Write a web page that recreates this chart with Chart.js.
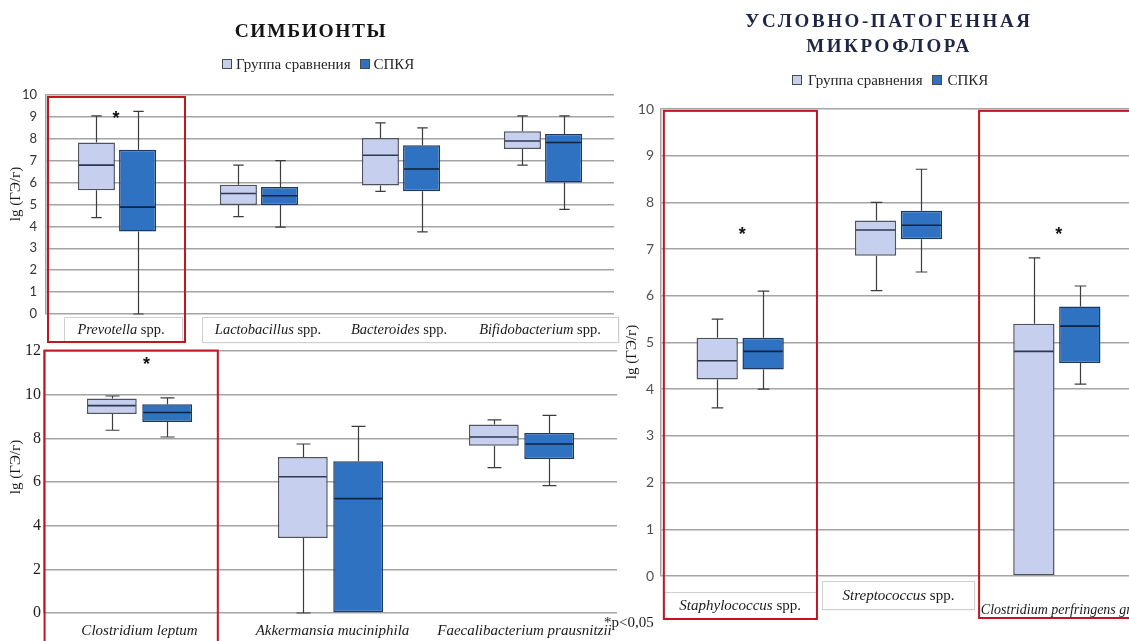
<!DOCTYPE html>
<html lang="ru">
<head>
<meta charset="utf-8">
<title>Микробиота кишечника</title>
<script src="https://cdn.jsdelivr.net/npm/chart.js@4.4.1/dist/chart.umd.min.js"></script>
<style>
  html, body { margin: 0; padding: 0; background: #fff; overflow: hidden; }
  #page { position: relative; width: 1129px; height: 641px; overflow: hidden; background: #fff; }
  #page canvas { position: absolute; }
  .ttl { position: absolute; font-family: "Liberation Serif", "Times New Roman", serif; font-weight: bold; text-align: center; white-space: nowrap; }
  .leg { position: absolute; height: 18px; display: flex; align-items: center; font-family: "Liberation Serif", serif; font-size: 15px; color: #262626; white-space: nowrap; }
  .sw { width: 8px; height: 8px; border: 1px solid #4a4a4a; display: inline-block; flex: none; }
  .note { position: absolute; font-family: "Liberation Serif", serif; font-size: 15px; color: #1a1a1a; white-space: nowrap; line-height: 18px; }
</style>
</head>
<body>
<div id="page">
  <canvas id="symb" width="622" height="345" style="left:0;top:0;width:622px;height:345px"></canvas>
  <canvas id="comm" width="622" height="311" style="left:0;top:330px;width:622px;height:311px"></canvas>
  <canvas id="opp" width="520" height="641" style="left:622px;top:0;width:520px;height:641px"></canvas>

  <div class="ttl" style="left:0;top:19px;width:622px;font-size:19.5px;line-height:24px;letter-spacing:1.6px;color:#141414">СИМБИОНТЫ</div>
  <div class="ttl" style="left:649px;top:8px;width:480px;font-size:19px;line-height:25px;letter-spacing:2.6px;color:#1d2645">УСЛОВНО-ПАТОГЕННАЯ<br>МИКРОФЛОРА</div>
  <div class="leg" id="legSymb" style="left:222px;top:55px"></div>
  <div class="leg" id="legOpp" style="left:792px;top:71px"></div>
  <div class="note" style="left:604px;top:613px">*p&lt;0,05</div>
</div>

<script>
// Series
const seriesNames = ['Группа сравнения', 'СПКЯ'];

// Symbionts (upper left). Each entry: [min, Q1, median, Q3, max], lg(GE/g)
const symbLabels = [['Prevotella', ' spp.'], ['Lactobacillus', ' spp.'], ['Bacteroides', ' spp.'], ['Bifidobacterium', ' spp.']];
const symbComparison = [[4.4, 5.65, 6.8, 7.83, 9.05], [4.45, 4.98, 5.5, 5.9, 6.8], [5.6, 5.87, 7.25, 8.04, 8.73], [6.8, 7.53, 7.9, 8.35, 9.05]];
const symbPcos = [[0, 3.77, 4.88, 7.5, 9.25], [3.97, 4.98, 5.4, 5.8, 7.0], [3.75, 5.6, 6.62, 7.7, 8.5], [4.78, 6.0, 7.83, 8.22, 9.05]];
const symbTicks = [0, 10, 1];          // min, max, step
const symbSignificant = [0];

// Symbionts (lower left)
const commLabels = [['Clostridium leptum', ''], ['Akkermansia muciniphila', ''], ['Faecalibacterium prausnitzii', '']];
const commComparison = [[8.37, 9.11, 9.5, 9.82, 9.94], [0, 3.43, 6.24, 7.15, 7.74], [6.66, 7.66, 8.06, 8.63, 8.85]];
const commPcos = [[8.06, 8.75, 9.18, 9.56, 9.85], [0, 0, 5.24, 6.95, 8.55], [5.83, 7.05, 7.74, 8.24, 9.05]];
const commTicks = [0, 12, 2];
const commSignificant = [0];

// Opportunistic flora (right)
const oppLabels = [['Staphylococcus', ' spp.'], ['Streptococcus', ' spp.'], ['Clostridium perfringens group', '']];
const oppComparison = [[3.6, 4.21, 4.61, 5.1, 5.5], [6.11, 6.86, 7.41, 7.61, 8.0], [0, 0, 4.81, 5.4, 6.81]];
const oppPcos = [[4.0, 4.42, 4.81, 5.1, 6.1], [6.51, 7.21, 7.51, 7.82, 8.71], [4.11, 4.56, 5.35, 5.77, 6.21]];
const oppTicks = [0, 10, 1];
const oppSignificant = [0, 2];

const yTitle = 'lg (ГЭ/г)';

// ---- styles ----
const LIGHT = { fill: '#c6d0ee', border: '#4f5360', median: '#2c3850' };
const DARK  = { fill: '#2e72c1', border: '#1b3a63', median: '#0d2442' };
const WHISKER = '#3c3c3c';
const GRID = '#a4a4a4';
const FRAME = '#c0161f';
const SERIF = '"Liberation Serif", "Times New Roman", serif';

function buildLegend(id, gap1, gap2) {
  const el = document.getElementById(id);
  [LIGHT, DARK].forEach((st, i) => {
    const sw = document.createElement('span');
    sw.className = 'sw';
    sw.style.background = st.fill;
    sw.style.marginRight = gap1 + 'px';
    if (i > 0) sw.style.marginLeft = gap2 + 'px';
    const tx = document.createElement('span');
    tx.textContent = seriesNames[i];
    el.appendChild(sw); el.appendChild(tx);
  });
}
buildLegend('legSymb', 4, 9);
buildLegend('legOpp', 6, 9);

function drawParts(ctx, parts, x, y, size, align) {
  const fonts = ['italic ' + size + 'px ' + SERIF, size + 'px ' + SERIF];
  let w = 0;
  parts.forEach((p, k) => { ctx.font = fonts[k]; w += ctx.measureText(p).width; });
  let cx = align === 'left' ? x : x - w / 2;
  ctx.textAlign = 'left';
  ctx.textBaseline = 'middle';
  ctx.fillStyle = '#1a1a1a';
  parts.forEach((p, k) => { ctx.font = fonts[k]; ctx.fillText(p, cx, y); cx += ctx.measureText(p).width; });
}

// Whiskers, medians and the annotations around each panel
function boxPlotPlugin(d) {
  return {
    id: 'boxDecor',
    beforeDatasetsDraw(chart) {
      const ys = chart.scales.y, ctx = chart.ctx;
      ctx.save();
      ctx.strokeStyle = WHISKER;
      ctx.lineWidth = 1.2;
      chart.data.datasets.forEach((ds, i) => {
        chart.getDatasetMeta(i).data.forEach((bar, j) => {
          const s = ds.stats[j];
          const p = bar.getProps(['x', 'width'], true);
          const x = Math.round(p.x) + 0.5;
          const cap = p.width * 0.28;
          ctx.beginPath();
          ctx.moveTo(x, ys.getPixelForValue(s[3]));
          ctx.lineTo(x, ys.getPixelForValue(s[4]));
          ctx.moveTo(x - cap / 2, ys.getPixelForValue(s[4]));
          ctx.lineTo(x + cap / 2, ys.getPixelForValue(s[4]));
          if (s[0] < s[1]) {
            ctx.moveTo(x, ys.getPixelForValue(s[1]));
            ctx.lineTo(x, ys.getPixelForValue(s[0]));
            ctx.moveTo(x - cap / 2, ys.getPixelForValue(s[0]));
            ctx.lineTo(x + cap / 2, ys.getPixelForValue(s[0]));
          }
          ctx.stroke();
        });
      });
      ctx.restore();
    },
    afterDatasetsDraw(chart) {
      const ys = chart.scales.y, ctx = chart.ctx;
      ctx.save();
      ctx.lineWidth = 1.6;
      chart.data.datasets.forEach((ds, i) => {
        ctx.strokeStyle = ds.medianColor;
        chart.getDatasetMeta(i).data.forEach((bar, j) => {
          const p = bar.getProps(['x', 'width'], true);
          const y = ys.getPixelForValue(ds.stats[j][2]);
          ctx.beginPath();
          ctx.moveTo(p.x - p.width / 2 + 1, y);
          ctx.lineTo(p.x + p.width / 2 - 1, y);
          ctx.stroke();
        });
      });
      ctx.restore();
    },
    afterDraw(chart) {
      const ctx = chart.ctx, xs = chart.scales.x, ys = chart.scales.y, area = chart.chartArea;
      const x0 = xs.getPixelForValue(0);
      const step = xs.getPixelForValue(1) - x0;
      const catX = u => x0 + u * step;
      ctx.save();
      // label plates
      (d.plates || []).forEach(b => {
        const l = catX(b.from), r = catX(b.to), t = area.bottom + b.below;
        ctx.fillStyle = 'rgba(0,0,0,0.07)';
        ctx.fillRect(l + 1.5, t + 1.5, r - l, b.h);
        ctx.fillStyle = '#fff';
        ctx.fillRect(l, t, r - l, b.h);
        ctx.strokeStyle = '#cfcfcf';
        ctx.lineWidth = 1;
        ctx.strokeRect(Math.round(l) + 0.5, Math.round(t) + 0.5, Math.round(r - l), b.h);
      });
      // category labels
      d.labels.forEach((parts, i) => {
        const pos = d.labelPos[i];
        drawParts(ctx, parts, xs.getPixelForValue(i) + pos.dx, area.bottom + pos.dy, pos.size || d.labelSize, pos.align);
      });
      // significance marks
      d.significant.forEach(i => {
        ctx.font = 'bold 18px "Liberation Sans", sans-serif';
        ctx.fillStyle = '#111';
        ctx.textAlign = 'center';
        ctx.textBaseline = 'alphabetic';
        ctx.fillText('*', xs.getPixelForValue(i) + d.star.dx, ys.getPixelForValue(d.star.level) + 10.5);
      });
      // y axis title
      ctx.save();
      ctx.translate(d.yTitle.x, d.yTitle.y);
      ctx.rotate(-Math.PI / 2);
      ctx.font = '15px ' + SERIF;
      ctx.fillStyle = '#1a1a1a';
      ctx.textAlign = 'center';
      ctx.textBaseline = 'middle';
      ctx.fillText(yTitle, 0, 0);
      ctx.restore();
      // highlight frames
      ctx.strokeStyle = FRAME;
      ctx.lineWidth = 2;
      d.frames.forEach(f => {
        const l = catX(f.from), r = catX(f.to);
        const t = ys.getPixelForValue(f.top), b = area.bottom + f.below;
        ctx.strokeRect(l, t, r - l, b - t);
      });
      ctx.restore();
    }
  };
}

function boxChart(id, p) {
  const labels = p.labels.map(parts => parts.join(''));
  const mk = (name, stats, st) => ({
    label: name,
    data: stats.map(s => [s[1], s[3]]),
    stats: stats,
    medianColor: st.median,
    backgroundColor: st.fill,
    borderColor: st.border,
    borderWidth: 1.5,
    borderSkipped: false,
    categoryPercentage: 0.58,
    barPercentage: 0.9
  });
  return new Chart(document.getElementById(id), {
    type: 'bar',
    data: {
      labels: labels,
      datasets: [mk(seriesNames[0], p.comp, LIGHT), mk(seriesNames[1], p.pcos, DARK)]
    },
    options: {
      responsive: false,
      devicePixelRatio: 1,
      animation: false,
      events: [],
      layout: { padding: p.padding },
      plugins: { legend: { display: false }, title: { display: false }, tooltip: { enabled: false } },
      scales: {
        x: { display: false },
        y: {
          min: p.ticks[0], max: p.ticks[1],
          afterFit: s => { s.width = p.axisWidth; },
          grid: { color: GRID, lineWidth: 1.5, drawTicks: false },
          border: { display: true, color: GRID, width: 1.5 },
          ticks: { stepSize: p.ticks[2], padding: p.tickPad, color: p.tickColor, font: p.tickFont }
        }
      }
    },
    plugins: [boxPlotPlugin(p.decor)]
  });
}

boxChart('symb', {
  labels: symbLabels, comp: symbComparison, pcos: symbPcos, ticks: symbTicks,
  padding: { top: 95, bottom: 31, left: 0, right: 8 }, axisWidth: 46, tickPad: 9,
  tickColor: '#333', tickFont: { family: 'Lato, "Open Sans", sans-serif', size: 13 },
  decor: {
    labels: symbLabels, labelSize: 14.5,
    labelPos: [{ dx: 4, dy: 16 }, { dx: 9, dy: 16 }, { dx: -2, dy: 16 }, { dx: -3, dy: 16 }],
    plates: [{ from: -0.373, to: 0.458, below: 3, h: 25 }, { from: 0.599, to: 3.53, below: 3, h: 25 }],
    significant: symbSignificant, star: { dx: -1, level: 9.16 },
    yTitle: { x: 16, y: 194 },
    frames: [{ from: -0.486, to: 0.479, top: 9.91, below: 28 }]
  }
});

boxChart('comm', {
  labels: commLabels, comp: commComparison, pcos: commPcos, ticks: commTicks,
  padding: { top: 21, bottom: 28, left: 0, right: 5 }, axisWidth: 44, tickPad: 3,
  tickColor: '#222', tickFont: { family: SERIF, size: 16 },
  decor: {
    labels: commLabels, labelSize: 15,
    labelPos: [{ dx: 0, dy: 18 }, { dx: 2, dy: 18 }, { dx: 3, dy: 18 }],
    plates: [],
    significant: commSignificant, star: { dx: 7, level: 11.6 },
    yTitle: { x: 16, y: 137 },
    frames: [{ from: -0.497, to: 0.41, top: 12.02, below: 40 }]
  }
});

boxChart('opp', {
  labels: oppLabels, comp: oppComparison, pcos: oppPcos, ticks: oppTicks,
  padding: { top: 109, bottom: 65, left: 0, right: 6 }, axisWidth: 39, tickPad: 7,
  tickColor: '#505050', tickFont: { family: 'Lato, "Open Sans", sans-serif', size: 14 },
  decor: {
    labels: oppLabels, labelSize: 15,
    labelPos: [{ dx: 0, dy: 30 }, { dx: 0, dy: 20 }, { dx: -76, dy: 34, align: 'left', size: 14 }],
    plates: [{ from: -0.482, to: 0.479, below: 16, h: 26 }, { from: 0.514, to: 1.476, below: 5, h: 28 }],
    significant: oppSignificant, star: { dx: 2, level: 7.42 },
    yTitle: { x: 10, y: 352 },
    frames: [{ from: -0.482, to: 0.485, top: 9.96, below: 43 }, { from: 1.509, to: 2.7, top: 9.96, below: 42 }]
  }
});
</script>
</body>
</html>
